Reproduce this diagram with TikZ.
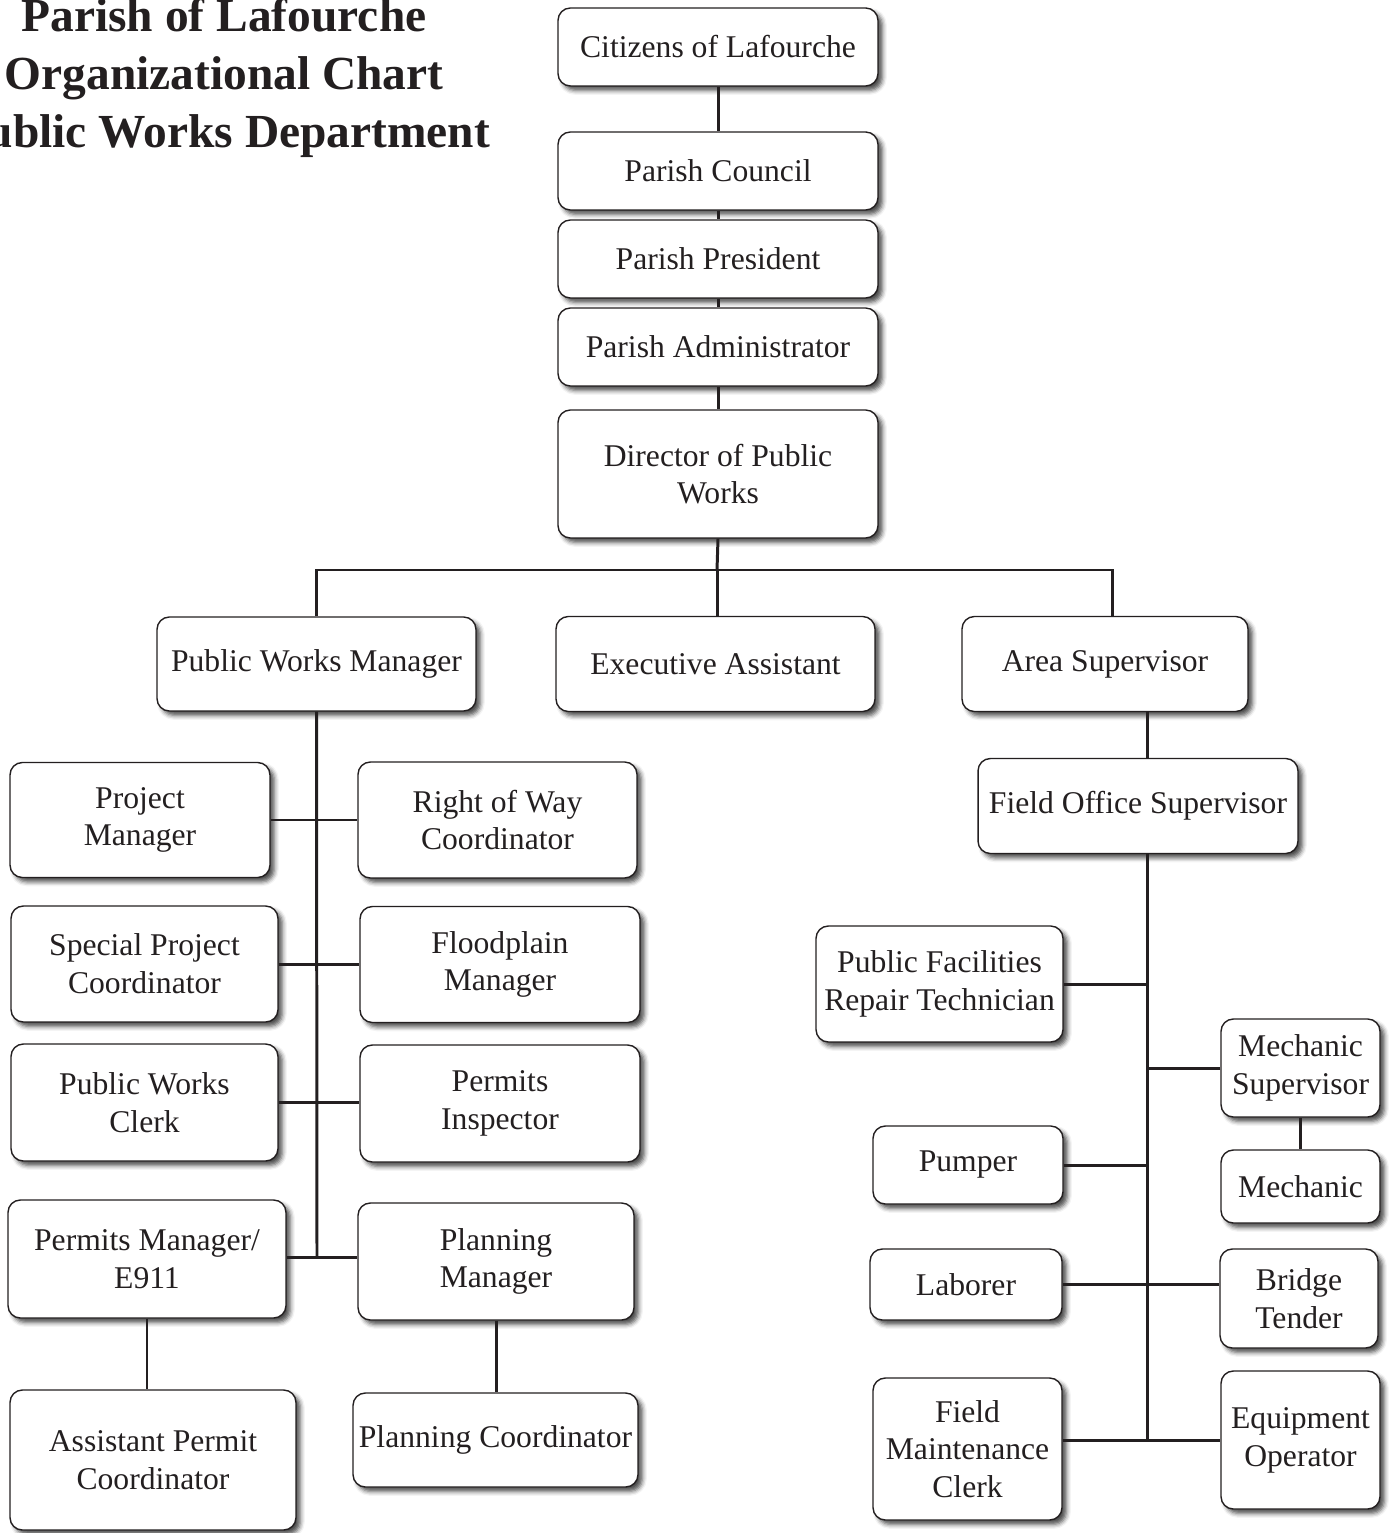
\documentclass[tikz,border=0pt]{standalone}
\usepackage{fontspec}
\setmainfont{Liberation Serif}
\usetikzlibrary{shadows.blur}
\definecolor{ink}{RGB}{35,31,32}
\begin{document}
\begin{tikzpicture}[x=0.02cm, y=-0.02cm,
        box/.style={draw=ink, line width=0.8pt, rounded corners=7pt, fill=white, align=center,
            inner sep=2pt, text=ink, font=\fontsize{18}{21.5}\selectfont,
            blur shadow={shadow xshift=2.5pt, shadow yshift=-2.5pt, shadow blur radius=2.5pt, shadow opacity=70}},
        link/.style={draw=ink, line width=1.7pt}]
    \useasboundingbox (0,0) rectangle (1389,1533);
    \node (title) at (224,-2) [anchor=north, align=center, text=ink, inner sep=0pt,
        font=\fontsize{27}{33}\selectfont\bfseries] {Parish of Lafourche\\Organizational Chart\\Public Works Department};

    \node (citizens) at (718,47) [box, minimum width=6.4cm, minimum height=1.56cm] {Citizens of Lafourche};
    \node (council) at (718,171) [box, minimum width=6.4cm, minimum height=1.56cm] {Parish Council};
    \node (president) at (718,259) [box, minimum width=6.4cm, minimum height=1.56cm] {Parish President};
    \node (admin) at (718,347) [box, minimum width=6.4cm, minimum height=1.56cm] {Parish Administrator};
    \node (director) at (718,474) [box, minimum width=6.4cm, minimum height=2.56cm] {Director of Public\\Works};

    \node (pwm) at (316.5,664) [box, minimum width=6.38cm, minimum height=1.88cm] {Public Works Manager};
    \node (exec) at (715.5,664) [box, minimum width=6.38cm, minimum height=1.9cm] {Executive Assistant};
    \node (area) at (1105,664) [box, minimum width=5.72cm, minimum height=1.9cm] {Area Supervisor};
    \node (fieldoffice) at (1138,806) [box, minimum width=6.4cm, minimum height=1.9cm] {Field Office Supervisor};

    \node (projmgr) at (140,820) [box, minimum width=5.2cm, minimum height=2.3cm] {Project\\Manager};
    \node (rightofway) at (497.5,820) [box, minimum width=5.58cm, minimum height=2.32cm] {Right of Way\\Coordinator};
    \node (specproj) at (144.5,964) [box, minimum width=5.34cm, minimum height=2.32cm] {Special Project\\Coordinator};
    \node (floodplain) at (500,964.5) [box, minimum width=5.6cm, minimum height=2.32cm] {Floodplain\\Manager};
    \node (pwclerk) at (144.5,1102.5) [box, minimum width=5.34cm, minimum height=2.34cm] {Public Works\\Clerk};
    \node (permitsinsp) at (500,1103.5) [box, minimum width=5.6cm, minimum height=2.34cm] {Permits\\Inspector};
    \node (permitsmgr) at (147,1259) [box, minimum width=5.56cm, minimum height=2.36cm] {Permits Manager/\\E911};
    \node (planmgr) at (496,1261.5) [box, minimum width=5.52cm, minimum height=2.34cm] {Planning\\Manager};
    \node (asstpermit) at (153,1460) [box, minimum width=5.72cm, minimum height=2.8cm] {Assistant Permit\\Coordinator};
    \node (plancoord) at (495.5,1440) [box, minimum width=5.7cm, minimum height=1.88cm] {Planning Coordinator};

    \node (pubfac) at (939.5,984) [box, minimum width=4.94cm, minimum height=2.32cm] {Public Facilities\\Repair Technician};
    \node (mechsup) at (1300.5,1068) [box, minimum width=3.18cm, minimum height=1.96cm] {Mechanic\\Supervisor};
    \node (mechanic) at (1300.5,1186.5) [box, minimum width=3.18cm, minimum height=1.46cm] {Mechanic};
    \node (pumper) at (968,1165) [box, minimum width=3.8cm, minimum height=1.56cm] {Pumper};
    \node (laborer) at (966,1284.5) [box, minimum width=3.84cm, minimum height=1.42cm] {Laborer};
    \node (bridge) at (1299,1298.5) [box, minimum width=3.16cm, minimum height=1.98cm] {Bridge\\Tender};
    \node (fieldmaint) at (967.5,1449) [box, minimum width=3.78cm, minimum height=2.84cm] {Field\\Maintenance\\Clerk};
    \node (equipop) at (1300.5,1440) [box, minimum width=3.18cm, minimum height=2.76cm] {Equipment\\Operator};

    \coordinate (bus) at (717,570);
    \coordinate (busright) at (1112,570);
    \coordinate (lspine) at (317,1257);
    \coordinate (rspine) at (1147,1440);

    \draw[link] (citizens) -- (council);
    \draw[link] (council) -- (president);
    \draw[link] (president) -- (admin);
    \draw[link] (admin) -- (director);
    \draw[link] (director.south) -- (bus);
    \draw[link] (pwm.north) |- (busright) -- (busright |- area.north);
    \draw[link] (bus) -- (bus |- exec.north);

    \draw[link] (pwm.south) -- (lspine);
    \draw[link] (projmgr.east) -- (projmgr.east -| rightofway.west);
    \draw[link] (specproj.east) -- (specproj.east -| floodplain.west);
    \draw[link] (pwclerk.east) -- (pwclerk.east -| permitsinsp.west);
    \draw[link] (permitsmgr.east |- lspine) -- (lspine -| planmgr.west);
    \draw[link] (permitsmgr.south) -- (permitsmgr.south |- asstpermit.north);
    \draw[link] (planmgr.south) -- (planmgr.south |- plancoord.north);

    \draw[link] (area.south -| rspine) -- (fieldoffice.north -| rspine);
    \draw[link] (fieldoffice.south -| rspine) -- (rspine);
    \draw[link] (pubfac.east) -- (pubfac.east -| rspine);
    \draw[link] (mechsup.west) -- (mechsup.west -| rspine);
    \draw[link] (mechsup) -- (mechanic);
    \draw[link] (pumper.east) -- (pumper.east -| rspine);
    \draw[link] (laborer.east) -- (laborer.east -| bridge.west);
    \draw[link] (fieldmaint.east |- rspine) -- (rspine -| equipop.west);
\end{tikzpicture}
\end{document}
